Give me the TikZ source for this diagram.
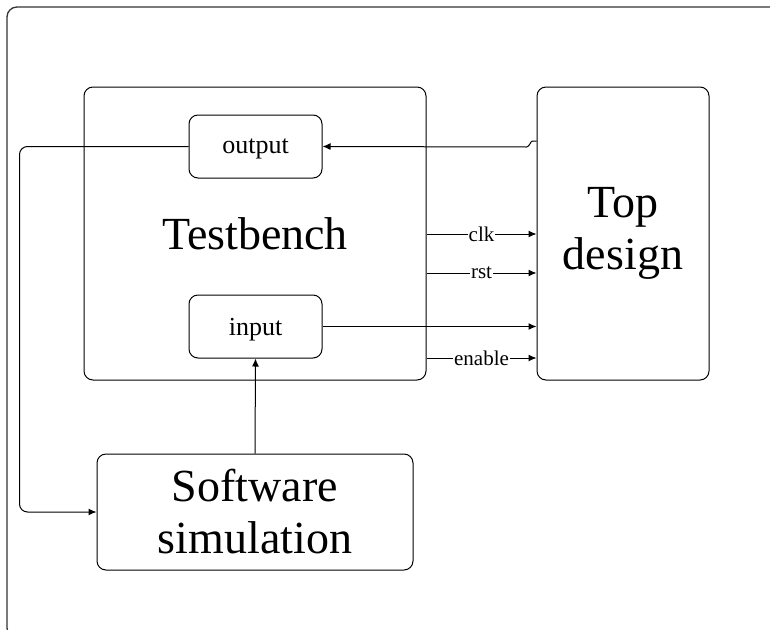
\documentclass[tikz,border=0pt]{standalone}
\usepackage{fontspec}
\setmainfont{Liberation Serif}
\usepackage{tikz}
\usetikzlibrary{shapes,arrows,positioning,calc,arrows.meta}

\begin{document}
\begin{tikzpicture}[x=1pt, y=-1pt,
    box/.style={draw, line width=1pt, rounded corners=9pt, align=center},
    bigtxt/.style={font=\fontsize{46}{52}\selectfont},
    midtxt/.style={font=\fontsize{26}{30}\selectfont, text depth=0pt},
    sigtxt/.style={font=\fontsize{21}{24}\selectfont, fill=white, inner sep=1pt},
    arr/.style={-{Latex[length=8pt,width=7pt]}, line width=1pt}]
    \useasboundingbox (0,0) rectangle (770,629);
    % outer frame, runs off the page on the right and at the bottom
    \draw[line width=1.3pt, black!80, rounded corners=10pt] (7,7) rectangle (782,638);

    % blocks
    \node[box, bigtxt, minimum width=342pt, minimum height=293pt] (tb) at (255,233.5) {Testbench};
    \node[box, bigtxt, minimum width=172pt, minimum height=293pt] (top) at (623,233.5) {Top\\design};
    \node[box, midtxt, minimum width=133pt, minimum height=63pt] (out) at (255.5,146.5) {output};
    \node[box, midtxt, minimum width=133pt, minimum height=63pt] (in) at (255.5,326.5) {input};
    \node[box, bigtxt, minimum width=316pt, minimum height=116pt] (sim) at (255,512) {Software\\simulation};

    % connectors
    \draw[arr] ([yshift=92.5pt]top.west) -- ++(-4,0) .. controls ++(-2,0) and ++(3,0) .. ++(-6,6) -- (out.east);
    \draw[arr, rounded corners=8pt] (out.west) -- ++(-169,0) |- (sim.west);
    \draw[arr] (sim.north) -- (in.south);
    \draw[arr] (in.east) -- (top.west |- in.east);
    \foreach \yy/\sig in {234/clk, 273/rst, 358/enable}
        \draw[arr] (tb.east |- 0,\yy) -- (top.west |- 0,\yy) node[midway, sigtxt] {\sig};
\end{tikzpicture}
\end{document}
